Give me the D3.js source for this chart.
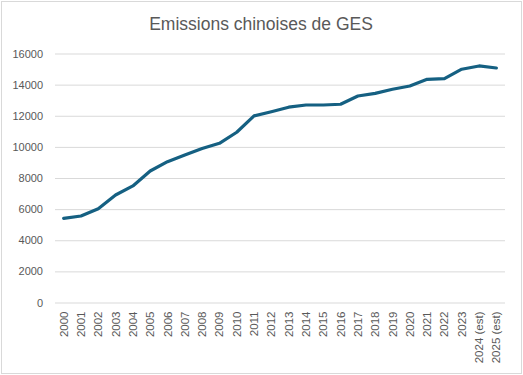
<!DOCTYPE html>
<html><head><meta charset="utf-8">
<script src="https://cdn.jsdelivr.net/npm/d3@7"></script>
<style>body{margin:0;background:#fff}svg{display:block}</style>
</head><body>
<script>
const categories = ["2000","2001","2002","2003","2004","2005","2006","2007","2008","2009","2010","2011","2012","2013","2014","2015","2016","2017","2018","2019","2020","2021","2022","2023","2024 (est)","2025 (est)"];
const emissions = [5410,5560,6030,6910,7490,8450,9050,9480,9890,10230,10940,11990,12260,12550,12690,12690,12740,13270,13440,13700,13910,14340,14380,14990,15200,15070];
const yTicks = [0,2000,4000,6000,8000,10000,12000,14000,16000];
const title = "Emissions chinoises de GES";

const W = 523, H = 375;
const svg = d3.select("body").append("svg").attr("width", W).attr("height", H);
svg.append("rect").attr("x",1.5).attr("y",1.5).attr("width",W-3).attr("height",H-3)
  .attr("fill","#fff").attr("stroke","#d9d9d9").attr("stroke-width",1);

const x = d3.scaleBand().domain(categories).range([55, 505]);
const y = d3.scaleLinear().domain([0,16000]).range([302.5, 53.5]);

svg.append("text").attr("x", 261).attr("y", 30).attr("text-anchor","middle")
  .attr("font-family","'Liberation Sans', Arial, sans-serif").attr("font-size", 17.5)
  .attr("fill","#595959").text(title);

const yAxis = svg.append("g").attr("transform","translate(55,0)")
  .call(d3.axisLeft(y).tickValues(yTicks).tickSize(-450).tickPadding(12).tickFormat(d3.format("d")));
yAxis.select(".domain").remove();
yAxis.selectAll(".tick line").attr("stroke","#d9d9d9").attr("stroke-width",1);
yAxis.selectAll(".tick text").attr("font-family","'Liberation Sans', Arial, sans-serif")
  .attr("font-size",11).attr("fill","#595959");

const xAxis = svg.append("g").attr("transform","translate(0,302.5)")
  .call(d3.axisBottom(x).tickSize(0).tickPadding(0));
xAxis.select(".domain").remove();
xAxis.selectAll(".tick text")
  .attr("font-family","'Liberation Sans', Arial, sans-serif").attr("font-size",11.5).attr("fill","#595959")
  .attr("transform","rotate(-90)").attr("text-anchor","end").attr("x",-9).attr("y",0).attr("dy","0.35em");

const line = d3.line().x((d,i)=>x(categories[i]) + x.bandwidth()/2).y(d=>y(d));
svg.append("path").datum(emissions).attr("d", line).attr("fill","none")
  .attr("stroke","#156082").attr("stroke-width",3.2).attr("stroke-linejoin","round").attr("stroke-linecap","round");
</script>
</body></html>
